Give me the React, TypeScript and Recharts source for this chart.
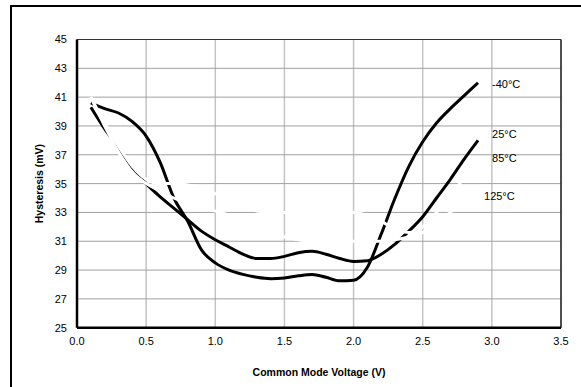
import React from "react";
import {
  CartesianGrid,
  Label,
  Line,
  LineChart,
  ReferenceLine,
  XAxis,
  YAxis
} from "recharts";

// Common mode voltage sweep (V)
const voltages = [
  0.1, 0.2, 0.3, 0.4, 0.5, 0.6, 0.7, 0.8, 0.9, 1.0, 1.1, 1.2, 1.3, 1.4, 1.5,
  1.6, 1.7, 1.8, 1.9, 2.0, 2.1, 2.2, 2.3, 2.4, 2.5, 2.6, 2.7, 2.8, 2.9
];

// Hysteresis (mV) per temperature
const hystM40 = [
  40.6, 40.2, 39.9, 39.3, 38.3, 36.5, 34.0, 32.4, 30.4, 29.5, 29.0, 28.7, 28.5,
  28.4, 28.45, 28.6, 28.7, 28.5, 28.25, 28.3, 29.2, 31.5, 34.0, 36.2, 37.9,
  39.2, 40.2, 41.1, 42.0
];
const hyst25 = [
  40.3, 38.8, 37.5, 36.1, 35.0, 34.1, 33.3, 32.5, 31.7, 31.1, 30.6, 30.1, 29.8,
  29.8, 29.95, 30.2, 30.3, 30.1, 29.8, 29.6, 29.65, 30.1, 30.8, 31.7, 32.7,
  34.0, 35.3, 36.7, 38.0
];
const hyst85 = [
  41.0, 39.2, 37.6, 36.2, 35.3, 35.0, 35.0, 34.9, 34.7, 34.3, 33.8, 33.4, 33.1,
  33.0, 33.0, 33.0, 33.0, 33.0, 33.0, 33.0, 32.8, 32.4, 31.8, 31.6, 32.0, 33.0,
  34.2, 35.4, 36.6
];
const hyst125 = [
  41.0, 39.0, 37.2, 35.8, 35.0, 34.5, 34.0, 33.6, 33.3, 33.1, 32.8, 32.4, 32.0,
  31.6, 31.3, 31.1, 31.0, 31.0, 31.0, 31.0, 31.0, 31.0, 31.1, 31.3, 31.6, 32.2,
  33.0, 33.9, 34.8
];

const xTicks = [0, 0.5, 1.0, 1.5, 2.0, 2.5, 3.0, 3.5];
const yTicks = [25, 27, 29, 31, 33, 35, 37, 39, 41, 43, 45];

const data = voltages.map((v, i) => ({
  v,
  m40: hystM40[i],
  t25: hyst25[i],
  t85: hyst85[i],
  t125: hyst125[i]
}));

const FONT = "'Liberation Sans', Arial, sans-serif";
const last = voltages.length - 1;

// label drawn next to the final point of each curve
function endLabel(text: string, dx: number, dy: number) {
  return (props: any) => {
    if (props.index !== last) return null;
    return (
      <text
        x={props.x + dx}
        y={props.y + dy}
        fontSize={11}
        fontFamily={FONT}
        fill="#000"
        dominantBaseline="central"
      >
        {text}
      </text>
    );
  };
}

function YTitle(props: any) {
  const vb = props.viewBox;
  const cy = vb.y + vb.height / 2;
  return (
    <text
      x={39}
      y={cy}
      transform={`rotate(-90, 39, ${cy})`}
      textAnchor="middle"
      dominantBaseline="central"
      fontSize={10.5}
      fontWeight="bold"
      fontFamily={FONT}
      fill="#000"
    >
      Hysteresis (mV)
    </text>
  );
}

export default function App() {
  return (
    <div
      style={{
        position: "fixed",
        left: 0,
        top: 0,
        width: 581,
        height: 387,
        background: "#fff",
        overflow: "hidden"
      }}
    >
      <div
        style={{
          position: "absolute",
          left: 10,
          top: 5,
          width: 600,
          height: 400,
          borderLeft: "2px solid #000",
          borderTop: "2px solid #000"
        }}
      />
      <div style={{ position: "absolute", left: 0, top: 0 }}>
        <LineChart
          width={581}
          height={387}
          data={data}
          margin={{ top: 39.5, right: 20, bottom: 0, left: 0 }}
        >
          <CartesianGrid horizontal={false} stroke="#c4c4c4" strokeWidth={1.5} />
          <CartesianGrid vertical={false} stroke="#a0a0a0" strokeWidth={1} />
          <XAxis
            dataKey="v"
            type="number"
            domain={[0, 3.5]}
            ticks={xTicks}
            tickFormatter={(t: number) => t.toFixed(1)}
            height={59.3}
            tickSize={0}
            tickMargin={9}
            axisLine={{ stroke: "#000", strokeWidth: 2.5 }}
            tick={{ fontSize: 11, fill: "#000", fontFamily: FONT }}
          >
            <Label
              value="Common Mode Voltage (V)"
              position="insideBottom"
              offset={11}
              style={{
                fontSize: 10.5,
                fontWeight: "bold",
                fill: "#000",
                fontFamily: FONT
              }}
            />
          </XAxis>
          <YAxis
            type="number"
            domain={[25, 45]}
            ticks={yTicks}
            width={77}
            tickSize={0}
            tickMargin={10}
            axisLine={{ stroke: "#000", strokeWidth: 2.5 }}
            tick={{ fontSize: 11, fill: "#000", fontFamily: FONT }}
          >
            <Label content={<YTitle />} />
          </YAxis>
          <ReferenceLine y={45} stroke="#333" strokeWidth={1} />
          <ReferenceLine x={3.5} stroke="#222" strokeWidth={1.5} />
          <Line
            dataKey="m40"
            type="monotone"
            stroke="#000"
            strokeWidth={3}
            dot={false}
            isAnimationActive={false}
            label={endLabel("-40°C", 14, 1)}
          />
          <Line
            dataKey="t25"
            type="monotone"
            stroke="#000"
            strokeWidth={3}
            dot={false}
            isAnimationActive={false}
            label={endLabel("25°C", 14, -6)}
          />
          <Line
            dataKey="t85"
            type="monotone"
            stroke="#fff"
            strokeWidth={3}
            dot={false}
            isAnimationActive={false}
            label={endLabel("85°C", 14, -2.5)}
          />
          <Line
            dataKey="t125"
            type="monotone"
            stroke="#fff"
            strokeWidth={3}
            dot={false}
            isAnimationActive={false}
            label={endLabel("125°C", 6, 10)}
          />
        </LineChart>
      </div>
    </div>
  );
}
